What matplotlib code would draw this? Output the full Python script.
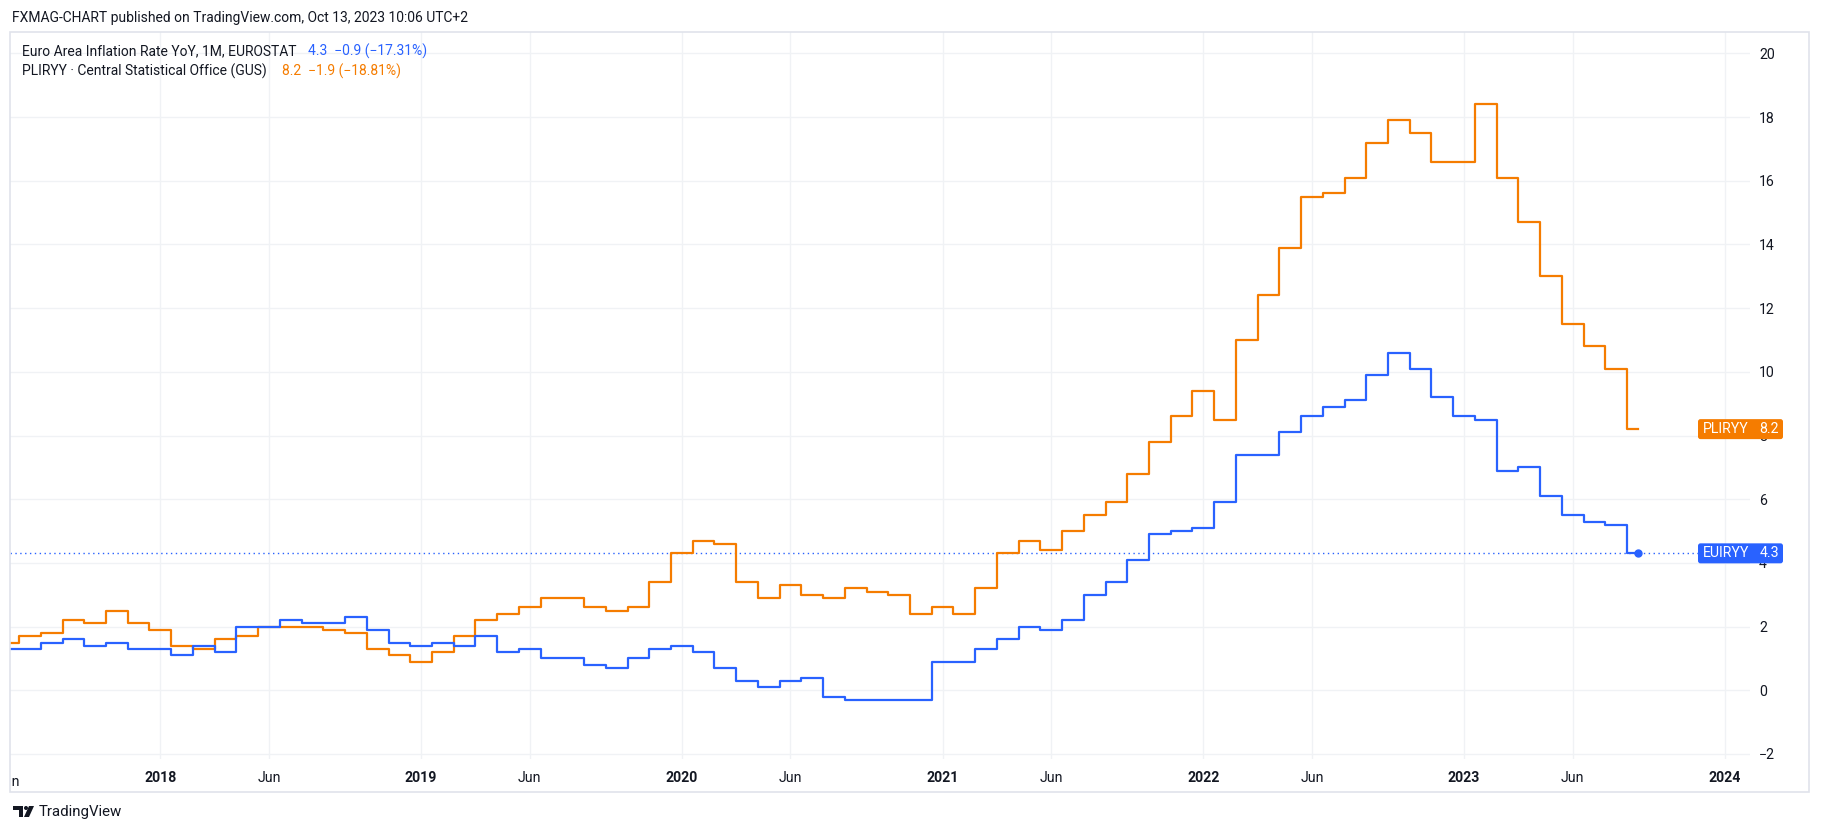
import matplotlib
matplotlib.use("Agg")
import matplotlib.pyplot as plt
import pandas as pd
from matplotlib.patches import Rectangle, FancyBboxPatch, Circle, Polygon
from matplotlib.transforms import Affine2D, Bbox

# monthly readings, Jun 2017 .. Sep 2023
months = pd.period_range("2017-06", "2023-09", freq="M").strftime("%Y-%m").tolist()
eu_cpi = [1.3, 1.3, 1.5, 1.6, 1.4, 1.5, 1.3,
          1.3, 1.1, 1.4, 1.2, 2.0, 2.0, 2.2, 2.1, 2.1, 2.3, 1.9, 1.5,
          1.4, 1.5, 1.4, 1.7, 1.2, 1.3, 1.0, 1.0, 0.8, 0.7, 1.0, 1.3,
          1.4, 1.2, 0.7, 0.3, 0.1, 0.3, 0.4, -0.2, -0.3, -0.3, -0.3, -0.3,
          0.9, 0.9, 1.3, 1.6, 2.0, 1.9, 2.2, 3.0, 3.4, 4.1, 4.9, 5.0,
          5.1, 5.9, 7.4, 7.4, 8.1, 8.6, 8.9, 9.1, 9.9, 10.6, 10.1, 9.2,
          8.6, 8.5, 6.9, 7.0, 6.1, 5.5, 5.3, 5.2, 4.3]
pl_cpi = [1.5, 1.7, 1.8, 2.2, 2.1, 2.5, 2.1,
          1.9, 1.4, 1.3, 1.6, 1.7, 2.0, 2.0, 2.0, 1.9, 1.8, 1.3, 1.1,
          0.9, 1.2, 1.7, 2.2, 2.4, 2.6, 2.9, 2.9, 2.6, 2.5, 2.6, 3.4,
          4.3, 4.7, 4.6, 3.4, 2.9, 3.3, 3.0, 2.9, 3.2, 3.1, 3.0, 2.4,
          2.6, 2.4, 3.2, 4.3, 4.7, 4.4, 5.0, 5.5, 5.9, 6.8, 7.8, 8.6,
          9.4, 8.5, 11.0, 12.4, 13.9, 15.5, 15.6, 16.1, 17.2, 17.9, 17.5, 16.6,
          16.6, 18.4, 16.1, 14.7, 13.0, 11.5, 10.8, 10.1, 8.2]
tick_months = ["2017-06", "2018-01", "2018-06", "2019-01", "2019-06", "2020-01", "2020-06",
               "2021-01", "2021-06", "2022-01", "2022-06", "2023-01", "2023-06", "2024-01"]
tick_labels = ["Jun", "2018", "Jun", "2019", "Jun", "2020", "Jun",
               "2021", "Jun", "2022", "Jun", "2023", "Jun", "2024"]
y_ticks = list(range(-2, 21, 2))

BLUE = "#2962ff"
ORANGE = "#f57c00"
TXT = "#131722"
GRID = "#f0f2f5"
FONT = "Roboto"

W, H = 1821, 832
fig = plt.figure(figsize=(W / 100, H / 100), dpi=100)
px = Affine2D().scale(1 / W, -1 / H).translate(0, 1) + fig.transFigure


def idx(m):
    # bar index, months since Jan 2018 (TradingView spaces bars evenly)
    return pd.Period(m, freq="M").ordinal - pd.Period("2018-01", freq="M").ordinal


x = [idx(m) for m in months]

ax = fig.add_axes([10 / W, 1 - 759 / H, 1740 / W, 727 / H])
ax.set_xlim(-6.92, 73.16)
ax.set_ylim(-2.157, 20.67)
for s in ax.spines.values():
    s.set_visible(False)

ax.plot(x, pl_cpi, drawstyle="steps-mid", color=ORANGE, lw=1.6, zorder=3)
ax.plot(x, eu_cpi, drawstyle="steps-mid", color=BLUE, lw=1.6, zorder=4)
ax.axhline(eu_cpi[-1], color=BLUE, lw=1, ls=(0, (1, 2.5)), zorder=2)
ax.plot([x[-1]], [eu_cpi[-1]], "o", color=BLUE, ms=5, zorder=5)

tick_x = [idx(m) for m in tick_months]
ax.set_xticks(tick_x[1:])
ax.set_xticklabels(tick_labels[1:])
ax.set_yticks(y_ticks)
ax.yaxis.tick_right()
ax.tick_params(axis="x", length=0, pad=9, labelsize=10.2, labelcolor=TXT)
ax.tick_params(axis="y", length=0, pad=6.5, labelsize=10.2, labelcolor=TXT)
for t in ax.get_xticklabels():
    t.set_fontfamily(FONT)
    if t.get_text() != "Jun":
        t.set_fontweight("bold")
for t in ax.get_yticklabels():
    t.set_fontfamily(FONT)
ax.grid(True, color=GRID, lw=1)
ax.set_axisbelow(True)

# cut-off "Jun" of 2017 at the left edge
cut = ax.text(tick_x[0], -0.0225, tick_labels[0], transform=ax.get_xaxis_transform(),
              ha="center", va="top", fontsize=10.2, color=TXT, family=FONT)
cut.set_clip_on(True)
cut.set_clip_box(Bbox.from_extents(11, 0, W, H))

# outer frame
fig.patches.append(Rectangle((10, 32), 1799, 760, transform=px, fill=False,
                             ec="#e0e3eb", lw=1.2))

# header and legend
fig.text(12, 18, "FXMAG-CHART published on TradingView.com, Oct 13, 2023 10:06 UTC+2",
         transform=px, va="center", fontsize=10, color=TXT, family=FONT)
fig.text(22, 51, "Euro Area Inflation Rate YoY, 1M, EUROSTAT", transform=px,
         va="center", fontsize=10, color=TXT, family=FONT)
fig.text(308, 51, "4.3  \u22120.9 (\u221217.31%)", transform=px,
         va="center", fontsize=10, color=BLUE, family=FONT)
fig.text(22, 71, "PLIRYY \u00b7 Central Statistical Office (GUS)", transform=px,
         va="center", fontsize=10, color=TXT, family=FONT)
fig.text(282, 71, "8.2  \u22121.9 (\u221218.81%)", transform=px,
         va="center", fontsize=10, color=ORANGE, family=FONT)

# last value badges on the price scale
for name, val, col in [("PLIRYY", pl_cpi[-1], ORANGE), ("EUIRYY", eu_cpi[-1], BLUE)]:
    yc = 690.3 - 31.85 * val
    fig.patches.append(FancyBboxPatch((1698, yc - 10), 85, 20, transform=px,
                                      boxstyle="round,pad=0,rounding_size=2.5",
                                      fc=col, ec="none", zorder=10))
    fig.text(1703, yc, name, transform=px, va="center", ha="left",
             fontsize=10.2, color="white", family=FONT, zorder=11)
    fig.text(1779, yc, f"{val:.1f}", transform=px, va="center", ha="right",
             fontsize=10.2, color="white", family=FONT, zorder=11)

# footer logo
fig.patches.append(Polygon([(13, 806), (23, 806), (23, 817), (19, 817), (19, 810), (13, 810)],
                           closed=True, transform=px, fc=TXT, ec="none"))
fig.patches.append(Circle((26, 808), 2, transform=px, fc=TXT, ec="none"))
fig.patches.append(Polygon([(29, 806), (34, 806), (29, 817), (24, 817)],
                           closed=True, transform=px, fc=TXT, ec="none"))
fig.text(39, 812, "TradingView", transform=px, va="center", fontsize=10.8,
         color=TXT, family=FONT)

fig.savefig("out.png", dpi=100, facecolor="white")
